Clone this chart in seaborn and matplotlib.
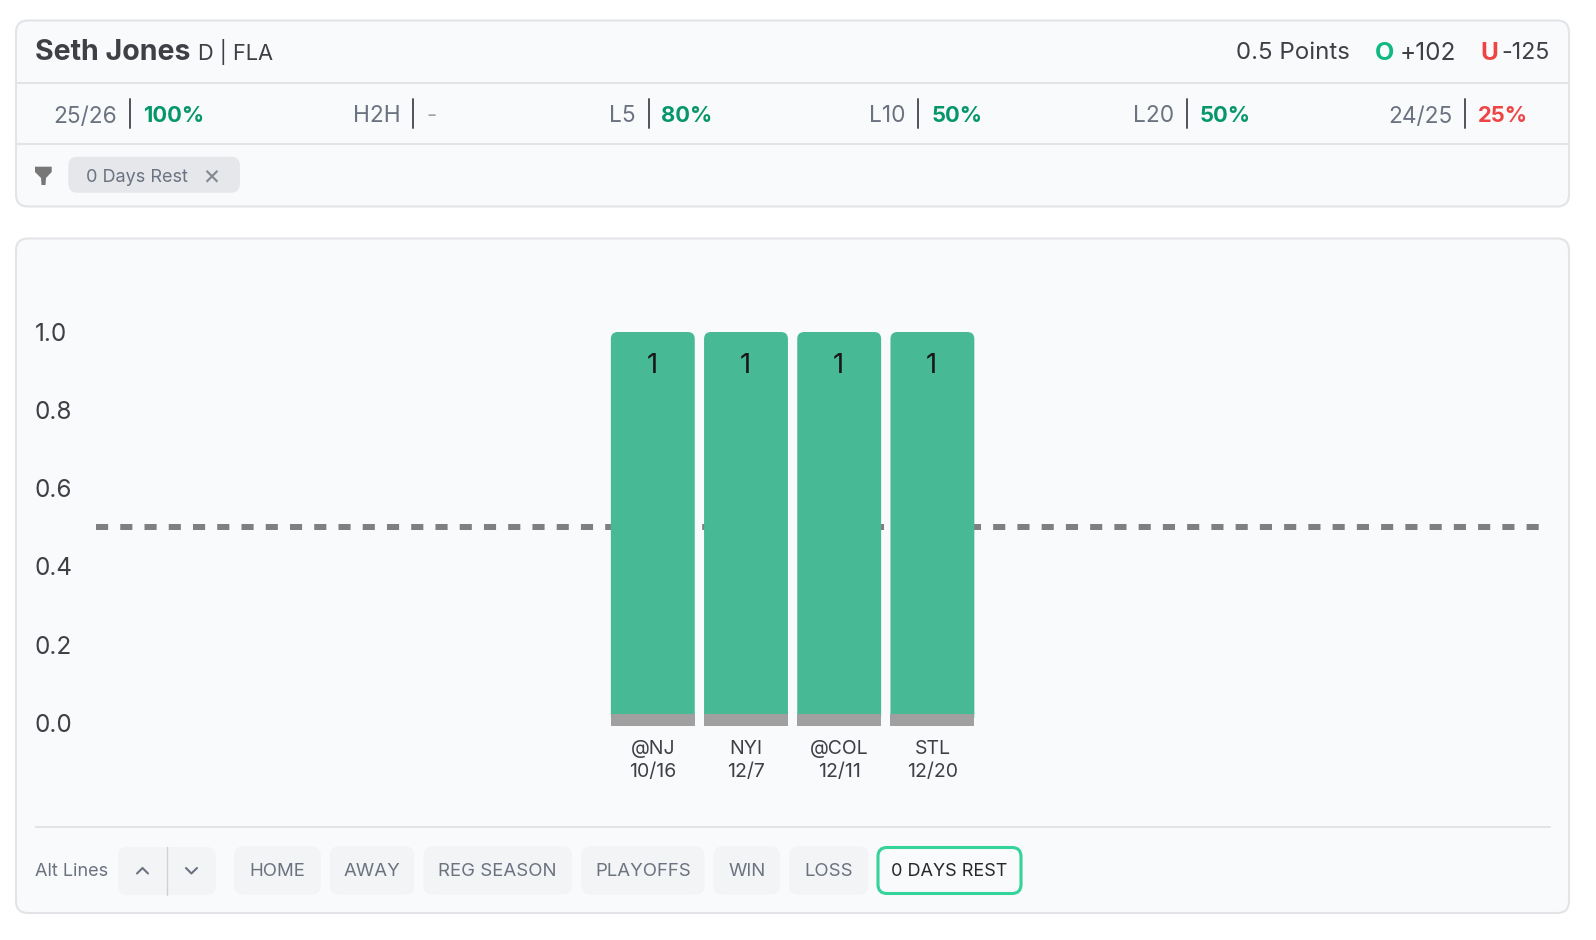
import matplotlib
matplotlib.use("Agg")
import matplotlib.pyplot as plt
from matplotlib.patches import FancyBboxPatch, Polygon
import pandas as pd
import seaborn as sns

sns.set_theme(style="white")
plt.rcParams["font.family"] = ["Inter", "DejaVu Sans"]

# chart data
opponents = ["@NJ", "NYI", "@COL", "STL"]
dates = ["10/16", "12/7", "12/11", "12/20"]
points = [1, 1, 1, 1]
line_value = 0.5
y_ticks = [0.0, 0.2, 0.4, 0.6, 0.8, 1.0]

# header text
player = "Seth Jones"
position_team = "D | FLA"
prop_name = "0.5 Points"
over_odds = "+102"
under_odds = "-125"
stat_labels = ["25/26", "H2H", "L5", "L10", "L20", "24/25"]
stat_values = ["100%", "-", "80%", "50%", "50%", "25%"]
filter_buttons = ["HOME", "AWAY", "REG SEASON", "PLAYOFFS", "WIN", "LOSS", "0 DAYS REST"]

# layout, in pixels of the 1596x940 picture
stat_sep_x = [130.3, 413.3, 648.5, 918.2, 1187, 1465]
button_edges = [(234, 320.7), (329.8, 414.3), (423.5, 572), (581.3, 704.5), (713.6, 779.8), (789, 868.4), (878, 1021)]

GREEN_BAR = "#47B994"
GREY_BASE = "#A0A0A0"
GREEN_TEXT = "#059669"
RED = "#EF4444"
DARK = "#3F3F46"
MUTED = "#6B7280"
BORDER = "#E2E4E7"
PANEL = "#F9FAFB"
CHIP = "#F3F4F6"

W, H = 1596, 940
fig = plt.figure(figsize=(W / 100, H / 100), dpi=100, facecolor="white")

# page layer in pixel coordinates, for the panels around the chart
page = fig.add_axes([0, 0, 1, 1], zorder=0)
page.set_xlim(0, W)
page.set_ylim(H, 0)
page.axis("off")


def box(x0, y0, x1, y1, radius, face, edge="none", lw=0):
    page.add_patch(FancyBboxPatch((x0, y0), x1 - x0, y1 - y0,
                                  boxstyle=f"round,pad=0,rounding_size={radius}",
                                  fc=face, ec=edge, lw=lw))


def label(x, y, s, size, color=DARK, ha="left", weight="normal"):
    page.text(x, y, s, fontsize=size, color=color, ha=ha, va="center_baseline", fontweight=weight)


box(16, 20.5, 1569, 206.5, 12, PANEL, BORDER, 1.5)
box(16, 238.5, 1569, 913, 12, PANEL, BORDER, 1.5)
page.plot([16, 1569], [82.5, 82.5], color=BORDER, lw=1.5)
page.plot([16, 1569], [143.5, 143.5], color=BORDER, lw=1.5)
page.plot([35.6, 1550], [826.6, 826.6], color=BORDER, lw=1.5)

label(35, 50, player, 20.5, weight="bold")
label(198.5, 49.5, position_team, 15.7)
label(1236, 50.5, prop_name, 17.3)
label(1375, 50.5, "O", 18, "#10B981", weight="bold")
label(1400, 50.5, over_odds, 17.5)
label(1480, 50.5, "U", 17.5, RED, weight="bold")
label(1550, 50.5, under_odds, 16.8, ha="right")

for sep, name, val in zip(stat_sep_x, stat_labels, stat_values):
    page.plot([sep, sep], [98.7, 128.3], color="#52525B", lw=1.4)
    label(sep - 13, 114, name, 16.3, MUTED, ha="right")
    if val == "-":
        label(sep + 13, 114, val, 16, "#9CA3AF")
    else:
        label(sep + 13, 114, val, 15.8, RED if val == "25%" else GREEN_TEXT, weight="bold")

# filter icon and active filter chip
page.add_patch(Polygon([(35, 166.7), (51.7, 166.7), (51.7, 172), (46, 178), (45.5, 185),
                        (41.5, 185), (41, 178), (35, 172)], fc="#777777", ec="none"))
box(68.3, 156.7, 240, 192.7, 9, "#E5E7EB")
label(86.5, 175, "0 Days Rest", 13, MUTED)
label(211, 174.5, "×", 19.5, "#858A92", ha="center")

# bottom controls
label(35.3, 870, "Alt Lines", 13, MUTED)
box(118, 847, 215.8, 895, 9, CHIP)
page.plot([167, 167], [847, 895], color="#CFD1D4", lw=1)
page.plot([137, 142.5, 148], [873.5, 868, 873.5], color=MUTED, lw=1.5)
page.plot([186, 191.4, 197], [868, 873.5, 868], color=MUTED, lw=1.5)
for name, (x0, x1) in zip(filter_buttons, button_edges):
    active = name == "0 DAYS REST"
    if active:
        box(x0, 847.5, x1, 893.5, 9, PANEL, "#34D399", 2.2)
    else:
        box(x0, 846.5, x1, 894.5, 9, CHIP)
    label((x0 + x1) / 2, 870, name, 13 if active else 13.4, "#27272A" if active else MUTED, ha="center")

# chart axes, scaled so that 0 and 1 land on the picture's tick rows
left, right, top, bottom = 96, 1539, 290, 733
zero_y, one_y = 722.8, 332
first_bar_x = 652.8
px_per_unit_y = zero_y - one_y
px_per_slot = 93.2
ax = fig.add_axes([left / W, 1 - bottom / H, (right - left) / W, (bottom - top) / H], zorder=1)
ax.patch.set_alpha(0)

games = pd.DataFrame({"game": opponents, "points": points})
base_top = 0.0235
base_bottom = -0.008
sns.barplot(data=games, x="game", y="points", color=GREEN_BAR, saturation=1, width=0.9,
            linewidth=0, ax=ax, zorder=3)
green_bars = list(ax.containers[0])
sns.barplot(data=games, x="game", y=[base_top - base_bottom] * len(games), bottom=base_bottom,
            color=GREY_BASE, saturation=1, width=0.9, linewidth=0, ax=ax, zorder=4)

ax.set_xlim((left - first_bar_x) / px_per_slot, (right - first_bar_x) / px_per_slot)
ax.set_ylim(-(bottom - zero_y) / px_per_unit_y, 1 + (one_y - top) / px_per_unit_y)

# rounded tops, built from the bars seaborn drew
radius = 7 / px_per_slot
for bar in green_bars:
    bar.set_visible(False)
    ax.add_patch(FancyBboxPatch((bar.get_x(), bar.get_y()), bar.get_width(), bar.get_height(),
                                boxstyle=f"round,pad=0,rounding_size={radius}",
                                mutation_aspect=px_per_slot / px_per_unit_y,
                                fc=GREEN_BAR, ec="none", zorder=3))
    ax.text(bar.get_x() + bar.get_width() / 2 - 0.01, bar.get_height() - 0.088, str(int(bar.get_height())),
            ha="center", va="center", fontsize=19.8, color="#18181B", zorder=5)

ax.axhline(line_value, color="#7F7F7F", lw=4.3, dashes=(2.03, 2.03), dash_capstyle="butt", zorder=2)

ax.set_xticks(range(len(opponents)), [f"{o}\n{d}" for o, d in zip(opponents, dates)])
ax.set_yticks(y_ticks, [f"{t:.1f}" for t in y_ticks])
ax.set_xlabel("")
ax.set_ylabel("")
ax.tick_params(axis="x", length=0, pad=5, labelsize=14, labelcolor=DARK)
ax.tick_params(axis="y", length=0, pad=44, labelsize=17.5, labelcolor=DARK)
plt.setp(ax.get_yticklabels(), ha="left")
plt.setp(ax.get_xticklabels(), linespacing=1.35)
sns.despine(ax=ax, left=True, bottom=True)

fig.savefig("out.png", dpi=100, facecolor="white")
